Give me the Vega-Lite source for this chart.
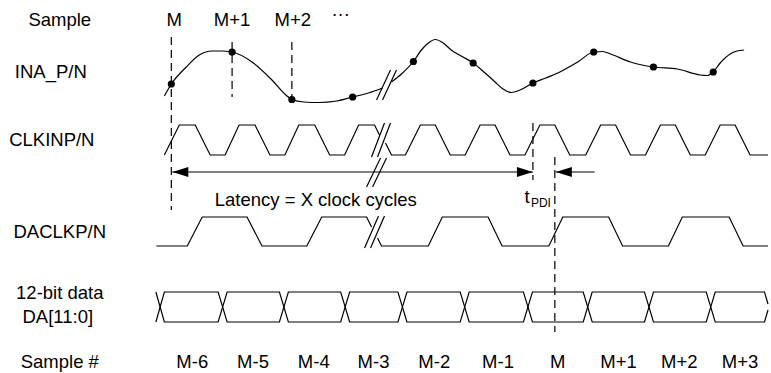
{
  "$schema": "https://vega.github.io/schema/vega-lite/v6.json",
  "width": 771,
  "height": 373,
  "autosize": {"type": "fit", "contains": "padding"},
  "padding": 0,
  "background": "white",
  "config": {"view": {"stroke": null}},
  "datasets": {
    "solid": [
      {"s": "clk1", "x": 165, "y": 155}, {"s": "clk1", "x": 180, "y": 125}, {"s": "clk1", "x": 196, "y": 125}, {"s": "clk1", "x": 211, "y": 155}, {"s": "clk1", "x": 226, "y": 155}, {"s": "clk1", "x": 240, "y": 125}, {"s": "clk1", "x": 256, "y": 125}, {"s": "clk1", "x": 271, "y": 155}, {"s": "clk1", "x": 286, "y": 155}, {"s": "clk1", "x": 300, "y": 125}, {"s": "clk1", "x": 316, "y": 125}, {"s": "clk1", "x": 331, "y": 155}, {"s": "clk1", "x": 346, "y": 155}, {"s": "clk1", "x": 360, "y": 125}, {"s": "clk1", "x": 376, "y": 125}, {"s": "clk1", "x": 381, "y": 135},
      {"s": "clk2", "x": 387, "y": 143}, {"s": "clk2", "x": 393, "y": 155}, {"s": "clk2", "x": 407, "y": 155}, {"s": "clk2", "x": 422, "y": 125}, {"s": "clk2", "x": 437, "y": 125}, {"s": "clk2", "x": 452, "y": 155}, {"s": "clk2", "x": 467, "y": 155}, {"s": "clk2", "x": 482, "y": 125}, {"s": "clk2", "x": 497, "y": 125}, {"s": "clk2", "x": 512, "y": 155}, {"s": "clk2", "x": 527, "y": 155}, {"s": "clk2", "x": 542, "y": 125}, {"s": "clk2", "x": 557, "y": 125}, {"s": "clk2", "x": 572, "y": 155}, {"s": "clk2", "x": 588, "y": 155}, {"s": "clk2", "x": 603, "y": 125}, {"s": "clk2", "x": 618, "y": 125}, {"s": "clk2", "x": 633, "y": 155}, {"s": "clk2", "x": 648, "y": 155}, {"s": "clk2", "x": 663, "y": 125}, {"s": "clk2", "x": 678, "y": 125}, {"s": "clk2", "x": 693, "y": 155}, {"s": "clk2", "x": 708, "y": 155}, {"s": "clk2", "x": 723, "y": 125}, {"s": "clk2", "x": 738, "y": 125}, {"s": "clk2", "x": 753, "y": 155}, {"s": "clk2", "x": 771, "y": 155},
      {"s": "dac1", "x": 157, "y": 246}, {"s": "dac1", "x": 188, "y": 246}, {"s": "dac1", "x": 203, "y": 217}, {"s": "dac1", "x": 248, "y": 217}, {"s": "dac1", "x": 263, "y": 246}, {"s": "dac1", "x": 308, "y": 246}, {"s": "dac1", "x": 323, "y": 217}, {"s": "dac1", "x": 368, "y": 217}, {"s": "dac1", "x": 373, "y": 227},
      {"s": "dac2", "x": 379, "y": 238}, {"s": "dac2", "x": 383, "y": 246}, {"s": "dac2", "x": 430, "y": 246}, {"s": "dac2", "x": 444, "y": 217}, {"s": "dac2", "x": 490, "y": 217}, {"s": "dac2", "x": 504, "y": 246}, {"s": "dac2", "x": 551, "y": 246}, {"s": "dac2", "x": 565, "y": 217}, {"s": "dac2", "x": 611, "y": 217}, {"s": "dac2", "x": 625, "y": 246}, {"s": "dac2", "x": 671, "y": 246}, {"s": "dac2", "x": 685, "y": 217}, {"s": "dac2", "x": 732, "y": 217}, {"s": "dac2", "x": 746, "y": 246}, {"s": "dac2", "x": 771, "y": 246},
      {"s": "busA", "x": 156.5, "y": 322}, {"s": "busA", "x": 165, "y": 292}, {"s": "busA", "x": 219, "y": 292}, {"s": "busA", "x": 228, "y": 322}, {"s": "busA", "x": 280.5, "y": 322}, {"s": "busA", "x": 289.5, "y": 292}, {"s": "busA", "x": 342, "y": 292}, {"s": "busA", "x": 351, "y": 322}, {"s": "busA", "x": 399.5, "y": 322}, {"s": "busA", "x": 408.5, "y": 292}, {"s": "busA", "x": 462, "y": 292}, {"s": "busA", "x": 471, "y": 322}, {"s": "busA", "x": 525.5, "y": 322}, {"s": "busA", "x": 534.5, "y": 292}, {"s": "busA", "x": 585.5, "y": 292}, {"s": "busA", "x": 594.5, "y": 322}, {"s": "busA", "x": 647, "y": 322}, {"s": "busA", "x": 656, "y": 292}, {"s": "busA", "x": 709, "y": 292}, {"s": "busA", "x": 718, "y": 322}, {"s": "busA", "x": 767.5, "y": 322}, {"s": "busA", "x": 771, "y": 310},
      {"s": "busB", "x": 156.5, "y": 292}, {"s": "busB", "x": 165, "y": 322}, {"s": "busB", "x": 219, "y": 322}, {"s": "busB", "x": 228, "y": 292}, {"s": "busB", "x": 280.5, "y": 292}, {"s": "busB", "x": 289.5, "y": 322}, {"s": "busB", "x": 342, "y": 322}, {"s": "busB", "x": 351, "y": 292}, {"s": "busB", "x": 399.5, "y": 292}, {"s": "busB", "x": 408.5, "y": 322}, {"s": "busB", "x": 462, "y": 322}, {"s": "busB", "x": 471, "y": 292}, {"s": "busB", "x": 525.5, "y": 292}, {"s": "busB", "x": 534.5, "y": 322}, {"s": "busB", "x": 585.5, "y": 322}, {"s": "busB", "x": 594.5, "y": 292}, {"s": "busB", "x": 647, "y": 292}, {"s": "busB", "x": 656, "y": 322}, {"s": "busB", "x": 709, "y": 322}, {"s": "busB", "x": 718, "y": 292}, {"s": "busB", "x": 767.5, "y": 292}, {"s": "busB", "x": 771, "y": 304},
      {"s": "lat", "x": 173, "y": 172}, {"s": "lat", "x": 535, "y": 172},
      {"s": "tpdi", "x": 558, "y": 172}, {"s": "tpdi", "x": 597, "y": 172},
      {"s": "b1a", "x": 378, "y": 100}, {"s": "b1a", "x": 392, "y": 70},
      {"s": "b1b", "x": 384, "y": 100}, {"s": "b1b", "x": 398, "y": 70},
      {"s": "b2a", "x": 373, "y": 157}, {"s": "b2a", "x": 386, "y": 123},
      {"s": "b2b", "x": 379, "y": 157}, {"s": "b2b", "x": 392, "y": 123},
      {"s": "b3a", "x": 368, "y": 187}, {"s": "b3a", "x": 382, "y": 158},
      {"s": "b3b", "x": 374, "y": 187}, {"s": "b3b", "x": 388, "y": 158},
      {"s": "b4a", "x": 366, "y": 248}, {"s": "b4a", "x": 380, "y": 216},
      {"s": "b4b", "x": 372, "y": 248}, {"s": "b4b", "x": 386, "y": 216}
    ],
    "dashed": [
      {"s": "g1", "x": 172, "y": 37}, {"s": "g1", "x": 172, "y": 210},
      {"s": "g2", "x": 233, "y": 42}, {"s": "g2", "x": 233, "y": 97},
      {"s": "g3", "x": 293, "y": 42}, {"s": "g3", "x": 293, "y": 100},
      {"s": "g4", "x": 535, "y": 123}, {"s": "g4", "x": 535, "y": 180},
      {"s": "g5", "x": 557, "y": 157}, {"s": "g5", "x": 557, "y": 332}
    ],
    "curve": [
      {"s": "ina1", "x": 165, "y": 96}, {"s": "ina1", "x": 172, "y": 84}, {"s": "ina1", "x": 187, "y": 67}, {"s": "ina1", "x": 200, "y": 55}, {"s": "ina1", "x": 213, "y": 51}, {"s": "ina1", "x": 222, "y": 51}, {"s": "ina1", "x": 233, "y": 52}, {"s": "ina1", "x": 253, "y": 62}, {"s": "ina1", "x": 273, "y": 80}, {"s": "ina1", "x": 287, "y": 95}, {"s": "ina1", "x": 293, "y": 99.5}, {"s": "ina1", "x": 305, "y": 102}, {"s": "ina1", "x": 320, "y": 102.5}, {"s": "ina1", "x": 338, "y": 101}, {"s": "ina1", "x": 354, "y": 97}, {"s": "ina1", "x": 370, "y": 93}, {"s": "ina1", "x": 384, "y": 88},
      {"s": "ina2", "x": 393, "y": 82}, {"s": "ina2", "x": 403, "y": 74}, {"s": "ina2", "x": 415, "y": 61.5}, {"s": "ina2", "x": 423, "y": 50}, {"s": "ina2", "x": 430, "y": 43}, {"s": "ina2", "x": 437, "y": 39.5}, {"s": "ina2", "x": 445, "y": 43}, {"s": "ina2", "x": 453, "y": 50}, {"s": "ina2", "x": 463, "y": 56}, {"s": "ina2", "x": 475, "y": 63}, {"s": "ina2", "x": 487, "y": 73}, {"s": "ina2", "x": 497, "y": 82}, {"s": "ina2", "x": 505, "y": 89}, {"s": "ina2", "x": 513, "y": 92.5}, {"s": "ina2", "x": 522, "y": 90}, {"s": "ina2", "x": 535, "y": 83}, {"s": "ina2", "x": 548, "y": 78}, {"s": "ina2", "x": 560, "y": 73}, {"s": "ina2", "x": 580, "y": 62}, {"s": "ina2", "x": 596, "y": 52}, {"s": "ina2", "x": 605, "y": 51.5}, {"s": "ina2", "x": 613, "y": 54}, {"s": "ina2", "x": 633, "y": 62}, {"s": "ina2", "x": 656, "y": 67}, {"s": "ina2", "x": 680, "y": 69}, {"s": "ina2", "x": 703, "y": 75}, {"s": "ina2", "x": 710, "y": 75.5}, {"s": "ina2", "x": 716, "y": 72}, {"s": "ina2", "x": 723, "y": 63}, {"s": "ina2", "x": 733, "y": 54}, {"s": "ina2", "x": 740, "y": 51}, {"s": "ina2", "x": 747, "y": 50}
    ],
    "dots": [
      {"x": 172, "y": 84}, {"x": 233, "y": 52}, {"x": 293, "y": 99.5}, {"x": 354, "y": 97}, {"x": 415, "y": 61.5},
      {"x": 475, "y": 63}, {"x": 535, "y": 83}, {"x": 596, "y": 52}, {"x": 656, "y": 67}, {"x": 716, "y": 72}
    ],
    "headL": [{"x": 173, "y": 172}, {"x": 558, "y": 172}],
    "headR": [{"x": 535, "y": 172}],
    "labels": [
      {"x": 60, "y": 20, "t": "Sample"},
      {"x": 175, "y": 20, "t": "M"},
      {"x": 233, "y": 20, "t": "M+1"},
      {"x": 294, "y": 20, "t": "M+2"},
      {"x": 342, "y": 14, "t": "···"},
      {"x": 51, "y": 72, "t": "INA_P/N"},
      {"x": 52, "y": 140, "t": "CLKINP/N"},
      {"x": 60, "y": 232, "t": "DACLKP/N"},
      {"x": 60, "y": 293, "t": "12-bit data"},
      {"x": 58, "y": 317, "t": "DA[11:0]"},
      {"x": 60, "y": 362, "t": "Sample #"},
      {"x": 317, "y": 200, "t": "Latency = X clock cycles"},
      {"x": 529, "y": 197, "t": "t"},
      {"x": 193, "y": 362, "t": "M-6"},
      {"x": 254, "y": 362, "t": "M-5"},
      {"x": 315, "y": 362, "t": "M-4"},
      {"x": 375, "y": 362, "t": "M-3"},
      {"x": 436, "y": 362, "t": "M-2"},
      {"x": 500, "y": 362, "t": "M-1"},
      {"x": 560, "y": 362, "t": "M"},
      {"x": 621, "y": 362, "t": "M+1"},
      {"x": 682, "y": 362, "t": "M+2"},
      {"x": 743, "y": 362, "t": "M+3"}
    ],
    "sub": [{"x": 543, "y": 203, "t": "PDI"}]
  },
  "encoding": {
    "x": {"field": "x", "type": "quantitative", "axis": null, "scale": {"domain": [0, 771], "nice": false, "zero": false}},
    "y": {"field": "y", "type": "quantitative", "axis": null, "scale": {"domain": [0, 373], "nice": false, "zero": false, "reverse": true}}
  },
  "layer": [
    {
      "data": {"name": "solid"},
      "mark": {"type": "line", "color": "black", "strokeWidth": 1.2},
      "encoding": {"detail": {"field": "s", "type": "nominal"}}
    },
    {
      "data": {"name": "dashed"},
      "mark": {"type": "line", "color": "black", "strokeWidth": 1.2, "strokeDash": [8, 5]},
      "encoding": {"detail": {"field": "s", "type": "nominal"}}
    },
    {
      "data": {"name": "curve"},
      "mark": {"type": "line", "color": "black", "strokeWidth": 1.2, "interpolate": "monotone"},
      "encoding": {"detail": {"field": "s", "type": "nominal"}}
    },
    {
      "data": {"name": "dots"},
      "mark": {"type": "point", "filled": true, "color": "black", "opacity": 1, "size": 52, "shape": "circle"}
    },
    {
      "data": {"name": "headL"},
      "mark": {"type": "point", "filled": true, "color": "black", "opacity": 1, "size": 256, "shape": "M0,0L2,-0.62L2,0.62Z"}
    },
    {
      "data": {"name": "headR"},
      "mark": {"type": "point", "filled": true, "color": "black", "opacity": 1, "size": 256, "shape": "M0,0L-2,-0.62L-2,0.62Z"}
    },
    {
      "data": {"name": "labels"},
      "mark": {"type": "text", "font": "Liberation Sans", "fontSize": 18.5, "align": "center", "baseline": "middle", "color": "black"},
      "encoding": {"text": {"field": "t"}}
    },
    {
      "data": {"name": "sub"},
      "mark": {"type": "text", "font": "Liberation Sans", "fontSize": 12, "align": "center", "baseline": "middle", "color": "black"},
      "encoding": {"text": {"field": "t"}}
    }
  ]
}
